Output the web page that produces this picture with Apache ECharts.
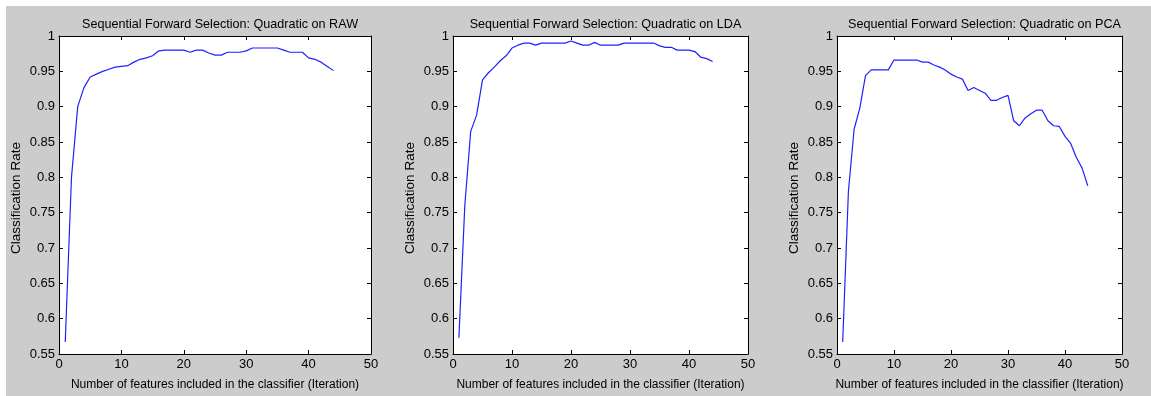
<!DOCTYPE html>
<html>
<head>
<meta charset="utf-8">
<script src="https://cdn.jsdelivr.net/npm/echarts@6/dist/echarts.min.js"></script>
<style>
  html, body { margin: 0; padding: 0; background: #ffffff; }
  #main { width: 1151px; height: 396px; }
</style>
</head>
<body>
<div id="main"></div>
<script>
// feature count (iteration) on the x axis
const iterations = [1,2,3,4,5,6,7,8,9,10,11,12,13,14,15,16,17,18,19,20,21,22,
  23,24,25,26,27,28,29,30,31,32,33,34,35,36,37,38,39,40,41,42,43,44];

const rawRate = [0.567,0.800,0.900,0.927,0.942,0.946,0.950,0.953,0.956,0.957,0.958,
  0.963,0.967,0.969,0.972,0.979,0.980,0.980,0.980,0.980,0.977,0.980,0.980,0.976,
  0.973,0.973,0.977,0.977,0.977,0.979,0.983,0.983,0.983,0.983,0.983,0.980,0.977,
  0.977,0.977,0.969,0.967,0.963,0.957,0.951];

const ldaRate = [0.573,0.760,0.865,0.888,0.938,0.948,0.956,0.965,0.972,0.983,0.987,
  0.990,0.990,0.987,0.990,0.990,0.990,0.990,0.990,0.993,0.990,0.987,0.987,0.991,
  0.987,0.987,0.987,0.987,0.990,0.990,0.990,0.990,0.990,0.990,0.986,0.984,0.984,
  0.980,0.980,0.980,0.978,0.970,0.968,0.964];

const pcaRate = [0.567,0.780,0.868,0.898,0.944,0.952,0.952,0.952,0.952,0.966,0.966,
  0.966,0.966,0.966,0.963,0.963,0.959,0.956,0.952,0.946,0.942,0.939,0.923,0.927,
  0.923,0.919,0.909,0.909,0.913,0.916,0.880,0.873,0.884,0.890,0.895,0.895,0.880,
  0.873,0.872,0.858,0.848,0.828,0.813,0.788];

const titles = [
  'Sequential Forward Selection: Quadratic on RAW',
  'Sequential Forward Selection: Quadratic on LDA',
  'Sequential Forward Selection: Quadratic on PCA'
];
const xName = 'Number of features included in the classifier (Iteration)';
const yName = 'Classification Rate';

const panels = [
  { title: titles[0], values: rawRate, left: 59, width: 312, nameX: 16 },
  { title: titles[1], values: ldaRate, left: 453, width: 295, nameX: 410 },
  { title: titles[2], values: pcaRate, left: 837, width: 285, nameX: 794 }
];

const FONT = 'Liberation Sans, Arial, sans-serif';
const TOP = 36, HEIGHT = 324;

const fmt = v => String(+v.toFixed(2));

const chart = echarts.init(document.getElementById('main'), null, { renderer: 'canvas' });

let grid = [], xAxis = [], yAxis = [], series = [], title = [];
// white edge of the original screenshot
let graphic = [
  { type: 'rect', shape: { x: 0, y: 0, width: 6, height: 396 }, style: { fill: '#fff' }, z: -1 },
  { type: 'rect', shape: { x: 0, y: 0, width: 1151, height: 6 }, style: { fill: '#fff' }, z: -1 }
];

panels.forEach((p, i) => {
  grid.push({ left: p.left, top: TOP, width: p.width, height: HEIGHT,
    show: true, backgroundColor: '#ffffff', borderWidth: 0 });

  title.push({
    text: p.title,
    left: p.left + p.width / 2, top: 13, textAlign: 'center',
    textStyle: { fontFamily: FONT, fontSize: 12.6, fontWeight: 'normal', color: '#000' }
  });

  const lineStyle = { color: '#000', width: 1 };
  // bottom x axis
  xAxis.push({
    type: 'value', gridIndex: i, min: 0, max: 50, interval: 10, position: 'bottom',
    axisLine: { show: true, onZero: false, lineStyle },
    axisTick: { show: true, inside: true, length: 4, lineStyle },
    axisLabel: { fontFamily: FONT, fontSize: 13, color: '#000', margin: 4 },
    splitLine: { show: false },
    name: xName, nameLocation: 'middle', nameGap: 25,
    nameTextStyle: { fontFamily: FONT, fontSize: 12, color: '#000' }
  });
  // top x axis (box edge)
  xAxis.push({
    type: 'value', gridIndex: i, min: 0, max: 50, interval: 10, position: 'top',
    axisLine: { show: true, onZero: false, lineStyle },
    axisTick: { show: true, inside: true, length: 4, lineStyle },
    axisLabel: { show: false }, splitLine: { show: false }
  });
  // left y axis
  yAxis.push({
    type: 'value', gridIndex: i, min: 0.55, max: 1, interval: 0.05, position: 'left',
    axisLine: { show: true, onZero: false, lineStyle },
    axisTick: { show: true, inside: true, length: 4, lineStyle },
    axisLabel: { fontFamily: FONT, fontSize: 13, color: '#000', margin: 4, formatter: fmt },
    splitLine: { show: false }
  });
  // right y axis (box edge)
  yAxis.push({
    type: 'value', gridIndex: i, min: 0.55, max: 1, interval: 0.05, position: 'right',
    axisLine: { show: true, onZero: false, lineStyle },
    axisTick: { show: true, inside: true, length: 4, lineStyle },
    axisLabel: { show: false }, splitLine: { show: false }
  });

  series.push({
    type: 'line', xAxisIndex: i * 2, yAxisIndex: i * 2,
    data: iterations.map((x, k) => [x, p.values[k]]),
    showSymbol: false, symbol: 'none',
    lineStyle: { color: '#2020ff', width: 1.2 },
    animation: false
  });

  graphic.push({
    type: 'text', x: p.nameX, y: TOP + HEIGHT / 2, rotation: Math.PI / 2,
    style: { text: yName, font: '13.5px ' + FONT, fill: '#000',
      textAlign: 'center', textVerticalAlign: 'middle' }
  });
});

chart.setOption({
  backgroundColor: '#cccccc',
  animation: false,
  title, grid, xAxis, yAxis, series, graphic
});
</script>
</body>
</html>
